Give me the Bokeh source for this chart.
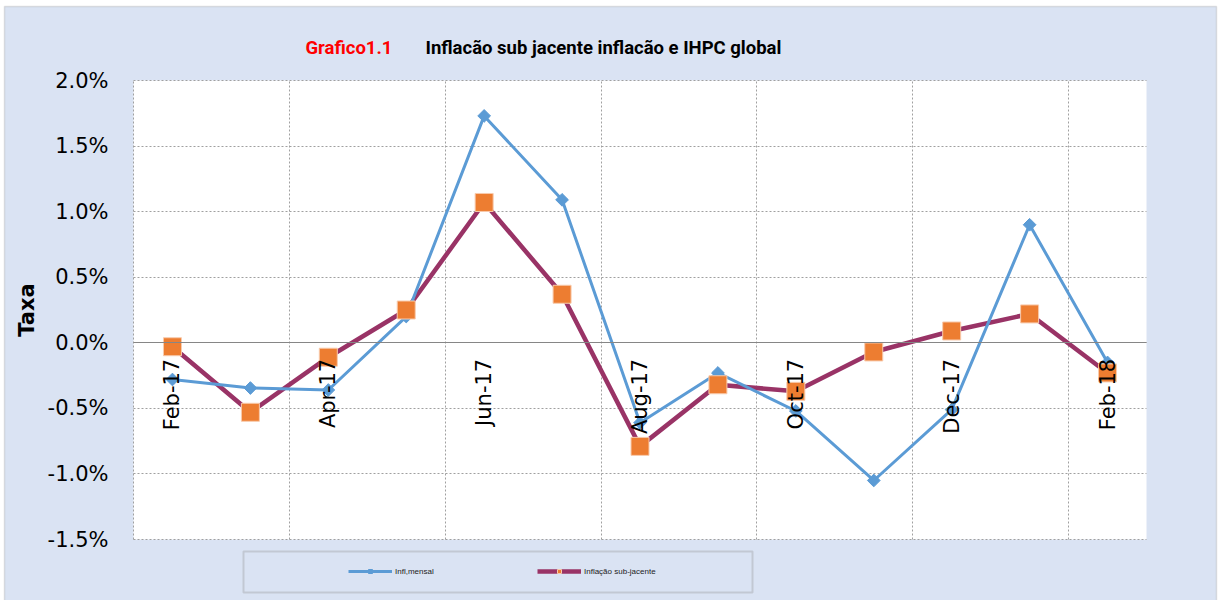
from math import pi
from bokeh.plotting import figure
from bokeh.models import (Range1d, FixedTicker, PrintfTickFormatter, Label, Legend,
                          LegendItem, BoxAnnotation, ColumnDataSource, Grid)
from bokeh.embed import file_html
from bokeh.resources import INLINE

# ---- data ----
months = ["Feb-17", "Mar-17", "Apr-17", "May-17", "Jun-17", "Jul-17", "Aug-17",
          "Sep-17", "Oct-17", "Nov-17", "Dec-17", "Jan-18", "Feb-18"]
infl_mensal = [-0.28, -0.345, -0.36, 0.20, 1.73, 1.09, -0.61, -0.23, -0.52, -1.05, -0.51, 0.90, -0.15]
infl_sub = [-0.03, -0.53, -0.11, 0.25, 1.07, 0.37, -0.79, -0.32, -0.37, -0.07, 0.09, 0.22, -0.23]
y_ticks = [-1.5, -1.0, -0.5, 0.0, 0.5, 1.0, 1.5, 2.0]
title_red = "Grafico1.1"
title_black = "Inflacão sub jacente inflacão e IHPC global"
y_label = "Taxa"
legend_labels = ["Infl,mensal", "Inflação sub-jacente"]

idx = list(range(len(months)))
labelled = idx[::2]

# ---- layout (pixels) ----
W, H = 1218, 600
PL, PR, PT, PB = 133, 1146, 80, 539          # plot-area edges on the canvas
BG = "#DAE3F3"
BLUE = "#5B9BD5"
PURPLE = "#993366"
ORANGE = "#ED7D31"
GRID = "#A0A0A0"

xs, xe = -0.5, len(months) - 0.5
ys, ye = y_ticks[0], y_ticks[-1]
kx = (xe - xs) / (PR - PL)
ky = (ye - ys) / (PB - PT)

p = figure(width=W, height=H, output_backend="svg", toolbar_location=None,
           x_range=Range1d(xs - PL * kx, xe + (W - PR) * kx),
           y_range=Range1d(ys - (H - PB) * ky, ye + PT * ky),
           min_border=0, min_border_left=0, min_border_right=0,
           min_border_top=0, min_border_bottom=0,
           background_fill_color="white", border_fill_color="white",
           outline_line_color=None)

# chart background + border, then white plot area
p.add_layout(BoxAnnotation(left=4, right=1216, top=6, bottom=H + 5,
                           left_units="canvas", right_units="canvas",
                           top_units="canvas", bottom_units="canvas",
                           fill_color=BG, fill_alpha=1, line_color="#A0A0A0",
                           line_width=1.5, level="image"))
p.add_layout(BoxAnnotation(left=xs, right=xe, bottom=ys, top=ye,
                           fill_color="white", fill_alpha=1, line_color=None,
                           level="image"))

# x axis on the zero line
xa = p.xaxis[0]
xa.fixed_location = 0
xa.bounds = (xs, xe)
xa.ticker = FixedTicker(ticks=labelled)
xa.major_label_overrides = {i: months[i] for i in labelled}
xa.major_label_orientation = pi / 2
xa.major_label_standoff = 16
xa.major_tick_in = 0
xa.major_tick_out = 0
xa.minor_tick_line_color = None
xa.major_tick_line_color = None
xa.axis_line_color = "#868686"
xa.axis_line_width = 1.2
xa.major_label_text_font = "DejaVu Sans"
xa.major_label_text_font_size = "21px"
xa.major_label_text_color = "black"

ya = p.yaxis[0]
ya.fixed_location = xs
ya.bounds = (ys, ye)
ya.ticker = FixedTicker(ticks=y_ticks)
ya.formatter = PrintfTickFormatter(format="%.1f%%")
ya.axis_line_color = None
ya.major_tick_line_color = None
ya.minor_tick_line_color = None
ya.major_tick_in = 0
ya.major_tick_out = 0
ya.major_label_standoff = 25
ya.major_label_text_font = "DejaVu Sans"
ya.major_label_text_font_size = "21px"
ya.major_label_text_color = "black"
ya.axis_label = y_label
ya.axis_label_text_font = "DejaVu Sans"
ya.axis_label_text_font_style = "bold"
ya.axis_label_text_font_size = "21px"
ya.axis_label_text_color = "black"
ya.axis_label_standoff = 6

grid_x_ticks = [i - 0.5 for i in labelled]
p.ygrid.ticker = FixedTicker(ticks=y_ticks)
p.xgrid.ticker = FixedTicker(ticks=grid_x_ticks)
if "cross_bounds" in Grid.properties():
    p.ygrid.cross_bounds = (xs, xe)
    p.xgrid.cross_bounds = (ys, ye)
    for g in (p.xgrid[0], p.ygrid[0]):
        g.grid_line_color = GRID
        g.grid_line_dash = "2 2"
        g.grid_line_width = 1
else:
    p.xgrid.grid_line_color = None
    p.ygrid.grid_line_color = None
    p.segment(x0=xs, x1=xe, y0=y_ticks, y1=y_ticks, line_color=GRID, line_dash="2 2", line_width=1)
    p.segment(x0=grid_x_ticks, x1=grid_x_ticks, y0=ys, y1=ye, line_color=GRID, line_dash="2 2", line_width=1)

src = ColumnDataSource(dict(x=idx, m=infl_mensal, s=infl_sub))
r_s_line = p.line("x", "s", source=src, line_color=PURPLE, line_width=4.5)
r_m_line = p.line("x", "m", source=src, line_color=BLUE, line_width=3)
r_m_pts = p.scatter("x", "m", source=src, marker="square", angle=pi / 4, size=9,
                    fill_color=BLUE, line_color=BLUE)
r_s_pts = p.scatter("x", "s", source=src, marker="square", size=18,
                    fill_color=ORANGE, line_color="#F8CBAD", line_width=1)

# legend box + legend items
p.add_layout(BoxAnnotation(left=243, right=752, top=551, bottom=592,
                           left_units="canvas", right_units="canvas",
                           top_units="canvas", bottom_units="canvas",
                           fill_alpha=0, line_color="#8C8C8C", line_width=2))
legend = Legend(items=[LegendItem(label=legend_labels[0], renderers=[r_m_line, r_m_pts]),
                       LegendItem(label=legend_labels[1], renderers=[r_s_line, r_s_pts])],
                orientation="horizontal", location=(348, 24),
                padding=5, spacing=5, glyph_width=44, glyph_height=10,
                label_standoff=3, label_width=137, label_height=10,
                label_text_font="Liberation Sans", label_text_font_size="8px",
                label_text_color="#222222",
                border_line_color=None, background_fill_alpha=0)
p.add_layout(legend)

# title (two colours)
p.add_layout(Label(x=305, y=47, x_units="canvas", y_units="canvas", text=title_red,
                   text_color="#FF0000", text_font="Roboto",
                   text_font_style="bold", text_font_size="18.5px", text_baseline="middle"))
p.add_layout(Label(x=425, y=47, x_units="canvas", y_units="canvas", text=title_black,
                   text_color="black", text_font="Roboto",
                   text_font_style="bold", text_font_size="18.5px", text_baseline="middle"))

open("out.html", "w").write(file_html(p, INLINE))
